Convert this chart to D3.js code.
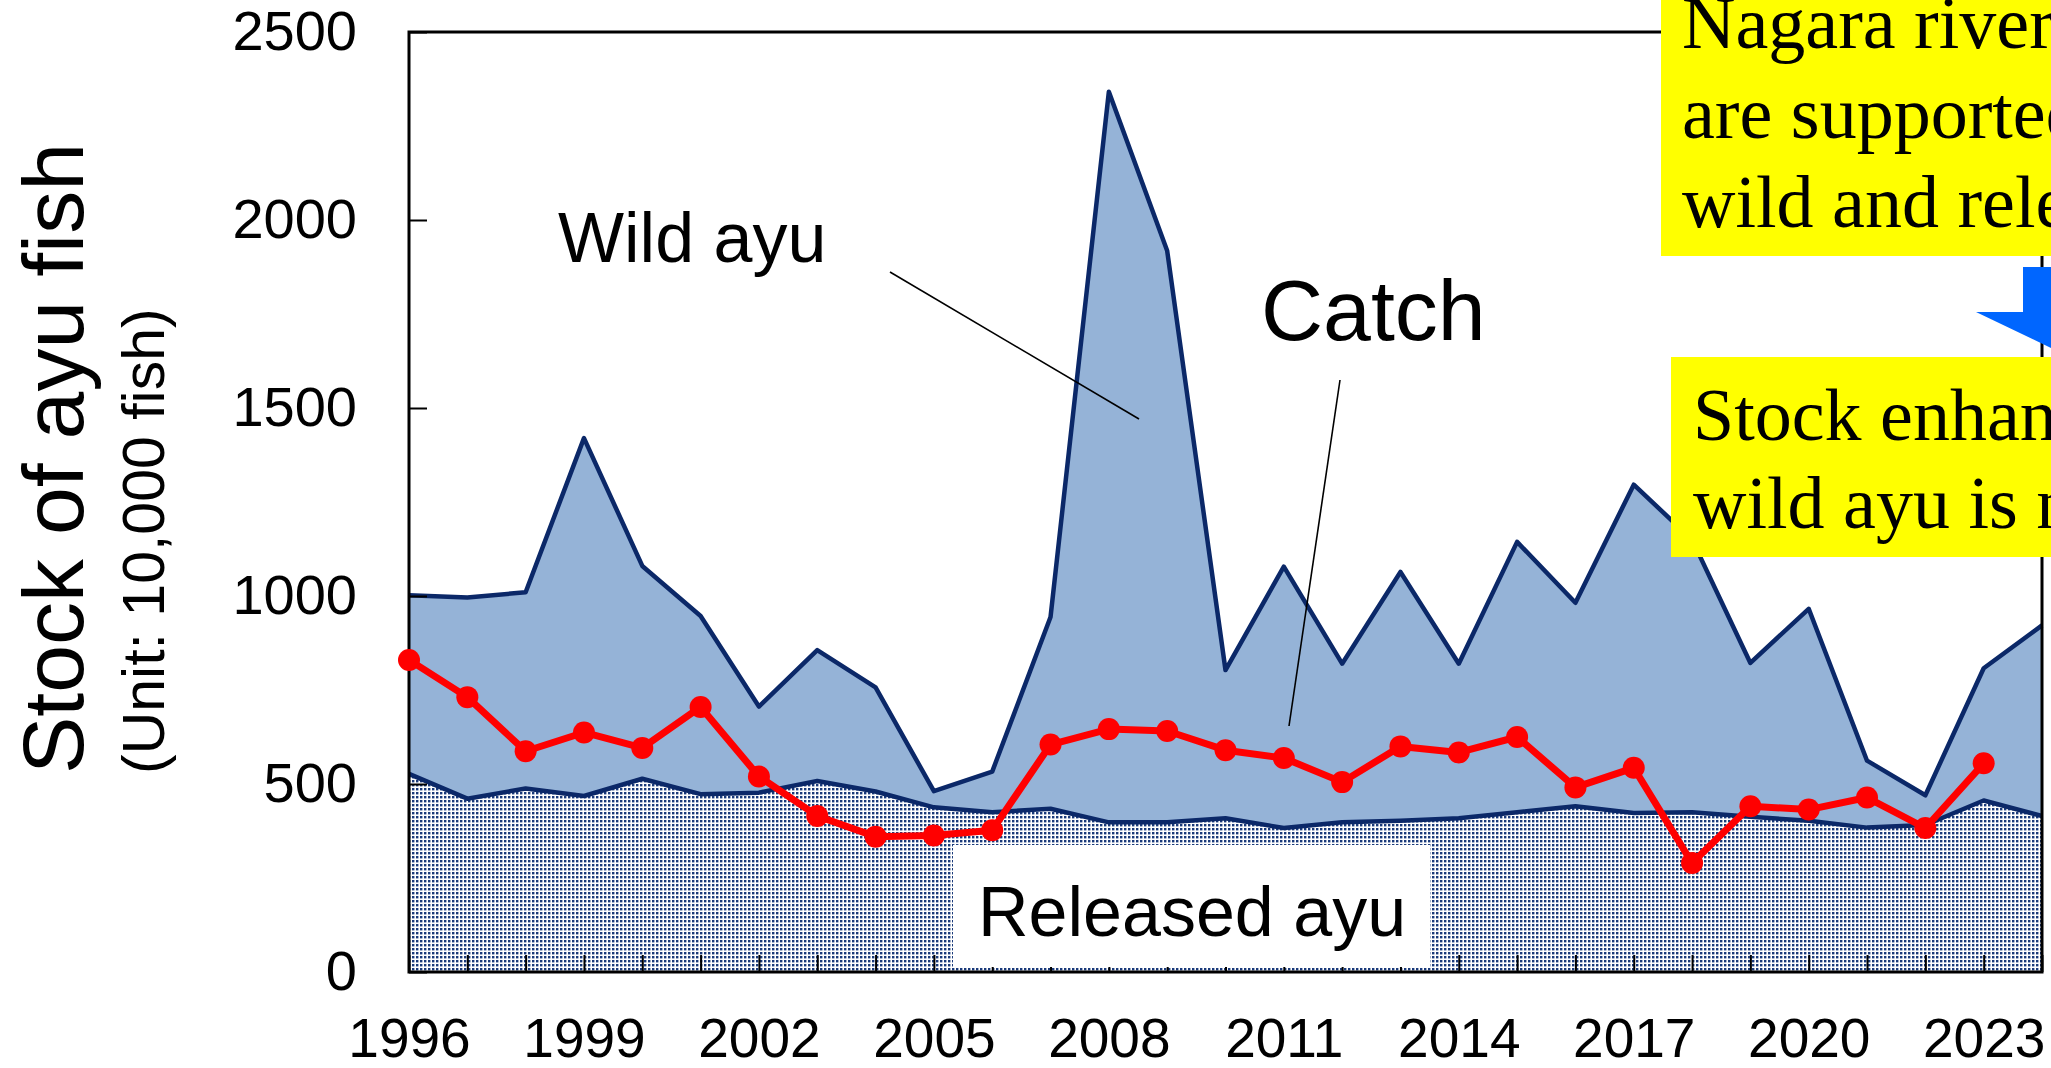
<!DOCTYPE html>
<html lang="en">
<head>
<meta charset="UTF-8">
<title>Stock of ayu fish</title>
<script src="https://d3js.org/d3.v7.min.js"></script>
<style>
  body { margin: 0; background: #fff; overflow: hidden; }
  svg { display: block; }
  .tick text { font-family: "Liberation Sans", Arial, sans-serif; fill: #000; }
  .tick line { stroke: #000; stroke-width: 2px; }
  .note { font-family: "Liberation Sans", Arial, sans-serif; fill: #000; }
  .boxText { font-family: "Liberation Serif", "Times New Roman", serif; font-size: 74px; fill: #000; }
</style>
</head>
<body>
<svg width="2051" height="1068"></svg>
<script>
// values in 10,000 fish
const years = d3.range(1996, 2025);
const releasedAyu = [527, 461, 488, 468, 514, 473, 477, 508, 480, 438, 425, 434, 398, 398, 409,
                     383, 398, 402, 409, 425, 441, 423, 425, 413, 402, 384, 391, 456, 415];
const wildAyu = [475, 535, 522, 952, 566, 474, 229, 348, 277, 43, 108, 510, 1943, 1520, 394,
                 695, 422, 662, 411, 719, 541, 873, 725, 409, 564, 178, 79, 352, 507];
const catchYears = d3.range(1996, 2024);
const catchAyu = [830, 731, 587, 637, 596, 705, 520, 415, 360, 363, 377, 605, 646, 641, 590,
                  569, 505, 600, 584, 625, 491, 543, 290, 441, 432, 464, 383, 555];
const yTicks = [0, 500, 1000, 1500, 2000, 2500];
const labelYears = d3.range(1996, 2024, 3);

const svg = d3.select("svg");
const x = d3.scaleLinear().domain([1996, 2024]).range([409, 2042]);
const y = d3.scaleLinear().domain([0, 2500]).range([972, 32]);

const rows = years.map((yr, i) => ({ year: yr, released: releasedAyu[i], wild: wildAyu[i] }));
const stacked = d3.stack().keys(["released", "wild"])(rows);

// dotted fill for released fish
const pat = svg.append("defs").append("pattern")
    .attr("id", "dots").attr("patternUnits", "userSpaceOnUse")
    .attr("width", 4).attr("height", 4);
pat.append("rect").attr("width", 4).attr("height", 4).attr("fill", "#fff");
pat.append("rect").attr("width", 2.4).attr("height", 2.4).attr("fill", "#1a3a7a");

const area = d3.area()
    .x(d => x(d.data.year))
    .y0(d => y(d[0]))
    .y1(d => y(d[1]));

svg.append("path").datum(stacked[0]).attr("d", area).attr("fill", "url(#dots)");
svg.append("path").datum(stacked[1]).attr("d", area).attr("fill", "#95b3d7");

const topLine = d3.line().x(d => x(d.data.year)).y(d => y(d[1]));
stacked.forEach(s => {
  svg.append("path").datum(s).attr("d", topLine)
    .attr("fill", "none").attr("stroke", "#0b2868")
    .attr("stroke-width", 4.5).attr("stroke-linejoin", "round");
});

// axes with inward ticks
svg.append("g").attr("transform", "translate(409,0)")
  .call(d3.axisLeft(y).tickValues(yTicks).tickSize(-18).tickPadding(52).tickFormat(d3.format("d")))
  .call(g => g.select(".domain").remove())
  .selectAll("text").style("font-size", "56px");

svg.append("g").attr("transform", "translate(0,972)")
  .call(d3.axisBottom(x).tickValues(years).tickSize(-17).tickPadding(46)
    .tickFormat(d => labelYears.includes(d) ? String(d) : ""))
  .call(g => g.select(".domain").remove())
  .selectAll("text").style("font-size", "55px");

// plot frame
svg.append("rect")
  .attr("x", x(1996)).attr("y", y(2500))
  .attr("width", x(2024) - x(1996)).attr("height", y(0) - y(2500))
  .attr("fill", "none").attr("stroke", "#000").attr("stroke-width", 3);

// catch line
svg.append("path").datum(catchAyu)
  .attr("d", d3.line().x((d, i) => x(catchYears[i])).y(d => y(d)))
  .attr("fill", "none").attr("stroke", "#ff0000").attr("stroke-width", 7)
  .attr("stroke-linejoin", "round");
svg.selectAll(".catchDot").data(catchAyu).join("circle")
  .attr("class", "catchDot")
  .attr("cx", (d, i) => x(catchYears[i])).attr("cy", d => y(d))
  .attr("r", 11).attr("fill", "#ff0000");

// released label on white box
svg.append("rect").attr("x", 953).attr("y", 845).attr("width", 477).attr("height", 122).attr("fill", "#fff");
svg.append("text").attr("class", "note").attr("x", 978).attr("y", 936)
  .style("font-size", "70px").text("Released ayu");

// wild / catch labels with leaders
svg.append("text").attr("class", "note").attr("x", 558).attr("y", 262)
  .style("font-size", "70px").text("Wild ayu");
svg.append("line").attr("x1", 890).attr("y1", 272).attr("x2", 1139).attr("y2", 419)
  .attr("stroke", "#000").attr("stroke-width", 1.6);
svg.append("text").attr("class", "note").attr("x", 1261).attr("y", 340)
  .style("font-size", "86px").text("Catch");
svg.append("line").attr("x1", 1340).attr("y1", 380).attr("x2", 1289).attr("y2", 726)
  .attr("stroke", "#000").attr("stroke-width", 1.6);

// y axis title
svg.append("text").attr("class", "note")
  .attr("transform", "translate(83,774) rotate(-90)")
  .style("font-size", "86px").text("Stock of ayu fish");
svg.append("text").attr("class", "note")
  .attr("transform", "translate(164,774) rotate(-90)")
  .style("font-size", "59px").text("(Unit: 10,000 fish)");

// yellow callouts (run off the right and top edge, as in the source figure)
svg.append("rect").attr("x", 1661).attr("y", -10).attr("width", 420).attr("height", 266).attr("fill", "#ffff00");
const box1 = ["Nagara river ayu stocks", "are supported by both", "wild and released ayu"];
box1.forEach((t, i) => svg.append("text").attr("class", "boxText")
  .attr("x", 1682).attr("y", 48 + i * 89.5).text(t));

svg.append("polygon")
  .attr("points", "2023,267 2117,267 2117,312 2164,312 2070,357 1976,312 2023,312")
  .attr("fill", "#0066ff");

svg.append("rect").attr("x", 1671).attr("y", 357).attr("width", 420).attr("height", 200).attr("fill", "#ffff00");
const box2 = ["Stock enhancement of", "wild ayu is needed"];
box2.forEach((t, i) => svg.append("text").attr("class", "boxText")
  .attr("x", 1693).attr("y", 440 + i * 88).text(t));
</script>
</body>
</html>
